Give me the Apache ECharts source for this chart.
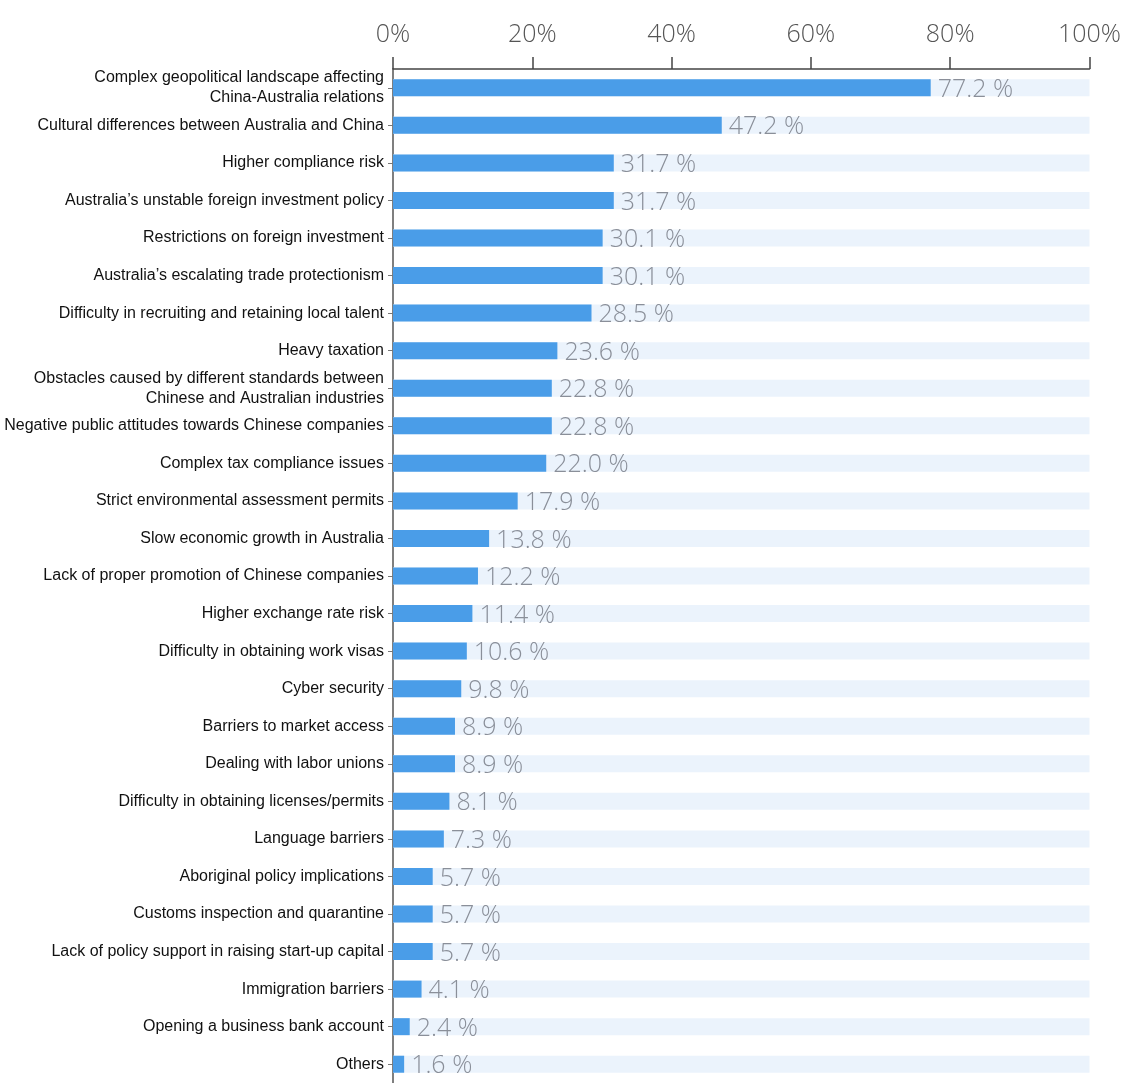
<!DOCTYPE html>
<html>
<head>
<meta charset="utf-8">
<script src="https://cdn.jsdelivr.net/npm/echarts@6/dist/echarts.min.js"></script>
<style>
  html, body { margin: 0; padding: 0; background: #fff; }
  #chart { width: 1124px; height: 1083px; }
</style>
</head>
<body>
<div id="chart"></div>
<script>
// categories, top to bottom
const categories = [
  'Complex geopolitical landscape affecting\nChina-Australia relations',
  'Cultural differences between Australia and China',
  'Higher compliance risk',
  'Australia\u2019s unstable foreign investment policy',
  'Restrictions on foreign investment',
  'Australia\u2019s escalating trade protectionism',
  'Difficulty in recruiting and retaining local talent',
  'Heavy taxation',
  'Obstacles caused by different standards between\nChinese and Australian industries',
  'Negative public attitudes towards Chinese companies',
  'Complex tax compliance issues',
  'Strict environmental assessment permits',
  'Slow economic growth in Australia',
  'Lack of proper promotion of Chinese companies',
  'Higher exchange rate risk',
  'Difficulty in obtaining work visas',
  'Cyber security',
  'Barriers to market access',
  'Dealing with labor unions',
  'Difficulty in obtaining licenses/permits',
  'Language barriers',
  'Aboriginal policy implications',
  'Customs inspection and quarantine',
  'Lack of policy support in raising start-up capital',
  'Immigration barriers',
  'Opening a business bank account',
  'Others'
]
// share of respondents, %
const values = [
  77.2, 47.2, 31.7, 31.7, 30.1, 30.1, 28.5, 23.6, 22.8, 22.8, 22.0, 17.9, 13.8, 12.2,
  11.4, 10.6, 9.8, 8.9, 8.9, 8.1, 7.3, 5.7, 5.7, 5.7, 4.1, 2.4, 1.6
]
const ticks = [0, 20, 40, 60, 80, 100]

const chart = echarts.init(document.getElementById('chart'), null, { renderer: 'canvas' })
const option = {
  animation: false,
  grid: {
    left: 393,
    top: 69,
    width: 698,
    height: 1018
  },
  xAxis: {
    type: 'value',
    position: 'top',
    min: ticks[0],
    max: ticks[ticks.length - 1],
    interval: 20,
    axisLine: { show: true, lineStyle: { color: '#444', width: 1.5 } },
    axisTick: { show: true, length: 12, lineStyle: { color: '#444', width: 1.5 } },
    splitLine: { show: false },
    axisLabel: {
      formatter: '{value}%',
      color: '#555',
      fontSize: 25,
      fontFamily: 'Open Sans',
      fontWeight: 300,
      margin: 22
    }
  },
  yAxis: {
    type: 'category',
    inverse: true,
    data: categories,
    axisLine: { show: true, lineStyle: { color: '#555', width: 1.5 } },
    axisTick: { show: true, length: 5, alignWithLabel: true, lineStyle: { color: '#777' } },
    axisLabel: {
      color: '#111',
      fontSize: 16,
      fontFamily: 'Liberation Sans, Arial, sans-serif',
      lineHeight: 20,
      margin: 9
    }
  },
  series: [
    {
      type: 'bar',
      data: values,
      barWidth: 17,
      itemStyle: { color: '#4a9de8' },
      showBackground: true,
      backgroundStyle: { color: '#ebf3fc' },
      label: {
        show: true,
        position: 'right',
        distance: 7,
        offset: [0, 2],
        formatter: p => p.value.toFixed(1) + ' %',
        color: '#8a8f99',
        fontSize: 25,
        fontFamily: 'Open Sans',
        fontWeight: 300
      }
    }
  ]
}
chart.setOption(option)
</script>
</body>
</html>
